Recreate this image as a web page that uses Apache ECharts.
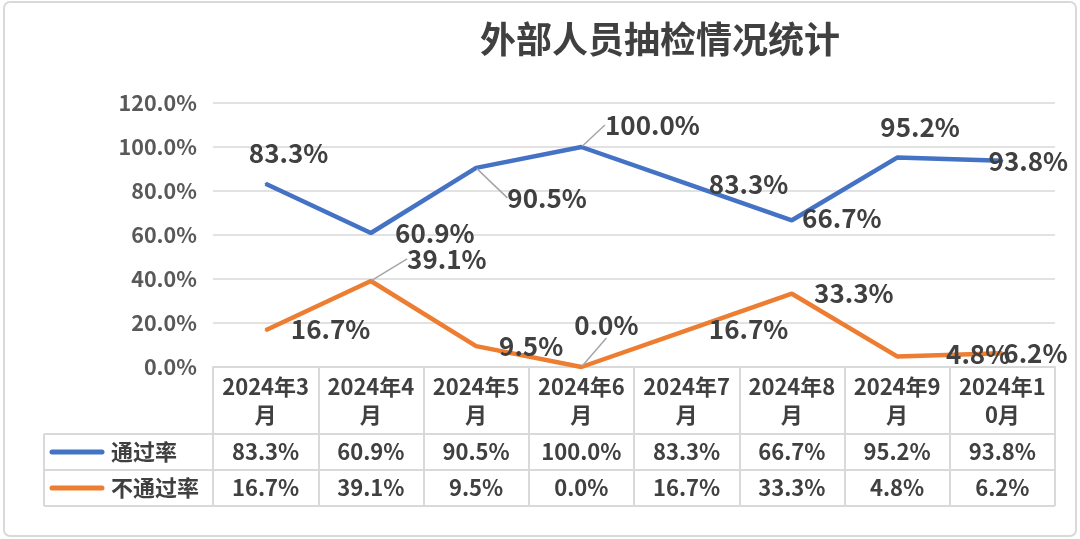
<!DOCTYPE html>
<html lang="zh">
<head>
    <meta charset="UTF-8">
    <script src="https://cdn.jsdelivr.net/npm/echarts@6/dist/echarts.min.js"></script>
    <title>外部人员抽检情况统计</title>
    <style>
        html, body { margin: 0; padding: 0; background: #fff; }
        #chart { width: 1080px; height: 539px; }
    </style>
</head>
<body>
<div id="chart"></div>
<script>
    // 数据
    var months = ['2024年3月', '2024年4月', '2024年5月', '2024年6月', '2024年7月', '2024年8月', '2024年9月', '2024年10月'];
    var passName = '通过率';
    var failName = '不通过率';
    var passRate = [83.3, 60.9, 90.5, 100.0, 83.3, 66.7, 95.2, 93.8];
    var failRate = [16.7, 39.1, 9.5, 0.0, 16.7, 33.3, 4.8, 6.2];
    var yTicks = [0, 20, 40, 60, 80, 100, 120];

    // 标签相对数据点的偏移（布局）
    var passLabelOffset = [[23, -31], [64, 0], [71, 30], [71, -22], [62, 0], [50, -2], [23, -30], [26, 0]];
    var failLabelOffset = [[65, -1], [76, -22], [55, 0], [25, -42], [62, -1], [62, -1], [81, -2], [33, 0]];
    var passLeader = [false, false, true, true, false, false, false, false];
    var failLeader = [false, true, false, true, false, false, false, false];

    var FONT = '"Noto Sans CJK SC", "Noto Sans", sans-serif';
    var BLUE = '#4472C4', ORANGE = '#ED7D31';
    var GRID_COLOR = '#d9d9d9';
    var TEXT = '#404040';

    function pct(v) { return v.toFixed(1) + '%'; }

    function buildData(values, leader) {
        return values.map(function (v, i) {
            return { value: v, labelLine: { show: leader[i] } };
        });
    }

    var myChart = echarts.init(document.getElementById('chart'));

    function lineSeries(name, values, color, offsets, leader) {
        return {
            name: name,
            type: 'line',
            data: buildData(values, leader),
            symbol: 'circle',
            symbolSize: 2,
            showSymbol: true,
            itemStyle: { color: color },
            lineStyle: { color: color, width: 4.5 },
            label: {
                show: true,
                position: 'inside',
                formatter: function (p) { return pct(p.value); },
                fontFamily: FONT,
                fontSize: 26,
                fontWeight: 'bold',
                color: TEXT
            },
            labelLine: {
                show: false,
                lineStyle: { color: '#a6a6a6', width: 1.5 }
            },
            labelLayout: function (params) {
                var o = offsets[params.dataIndex];
                return { dx: o[0], dy: o[1] };
            },
            emphasis: { disabled: true },
            animation: false
        };
    }

    var option = {
        animation: false,
        title: {
            text: '外部人员抽检情况统计',
            left: 655,
            top: 16,
            textAlign: 'center',
            textStyle: { fontFamily: FONT, fontSize: 36, fontWeight: 'bold', color: TEXT }
        },
        grid: { left: 213, right: 25, top: 103, bottom: 172 },
        xAxis: {
            type: 'category',
            data: months,
            boundaryGap: true,
            axisLine: { show: true, lineStyle: { color: GRID_COLOR, width: 2 } },
            axisTick: { show: true, length: 139, lineStyle: { color: GRID_COLOR, width: 2 } },
            axisLabel: {
                margin: 6,
                interval: 0,
                fontFamily: FONT,
                fontSize: 22,
                fontWeight: 'bold',
                lineHeight: 28,
                color: TEXT,
                formatter: function (v) { return v.slice(0, 6) + '\n' + v.slice(6); }
            }
        },
        yAxis: {
            type: 'value',
            min: yTicks[0],
            max: yTicks[yTicks.length - 1],
            interval: yTicks[1] - yTicks[0],
            axisLine: { show: false },
            axisTick: { show: false },
            axisLabel: {
                margin: 16,
                fontFamily: FONT,
                fontSize: 21.5,
                fontWeight: 'bold',
                color: '#595959',
                formatter: function (v) { return pct(v); }
            },
            splitLine: { lineStyle: { color: GRID_COLOR, width: 1.5 } }
        },
        series: [
            lineSeries(passName, passRate, BLUE, passLabelOffset, passLeader),
            lineSeries(failName, failRate, ORANGE, failLabelOffset, failLeader)
        ]
    };

    myChart.setOption(option);

    // 数据表（画在x轴下方）
    function drawTable() {
        var n = months.length;
        var c0 = myChart.convertToPixel({ xAxisIndex: 0 }, 0);
        var c1 = myChart.convertToPixel({ xAxisIndex: 0 }, 1);
        var bw = c1 - c0;
        var left = c0 - bw / 2;
        var right = left + bw * n;
        var axisY = myChart.convertToPixel({ yAxisIndex: 0 }, 0);
        var headerH = 67, rowH = 36;
        var legendLeft = 44;
        var r1 = axisY + headerH, r2 = r1 + rowH, r3 = r2 + rowH;
        var lineStyle = { stroke: GRID_COLOR, lineWidth: 2 };
        var els = [];

        [r1, r2, r3].forEach(function (y) {
            els.push({ type: 'line', shape: { x1: legendLeft, y1: y, x2: right, y2: y }, style: lineStyle, silent: true });
        });
        els.push({ type: 'line', shape: { x1: legendLeft, y1: r1, x2: legendLeft, y2: r3 }, style: lineStyle, silent: true });

        var rows = [
            { name: passName, values: passRate, color: BLUE, y: r1 + rowH / 2 },
            { name: failName, values: failRate, color: ORANGE, y: r2 + rowH / 2 }
        ];
        rows.forEach(function (row) {
            els.push({
                type: 'line',
                shape: { x1: 52, y1: row.y, x2: 102, y2: row.y },
                style: { stroke: row.color, lineWidth: 5, lineCap: 'round' },
                silent: true
            });
            els.push({
                type: 'text',
                x: 111, y: row.y,
                style: {
                    text: row.name, fill: TEXT, font: 'bold 22px ' + FONT,
                    textAlign: 'left', textVerticalAlign: 'middle'
                },
                silent: true
            });
            row.values.forEach(function (v, i) {
                els.push({
                    type: 'text',
                    x: myChart.convertToPixel({ xAxisIndex: 0 }, i),
                    y: row.y,
                    style: {
                        text: pct(v), fill: TEXT, font: 'bold 22px ' + FONT,
                        textAlign: 'center', textVerticalAlign: 'middle'
                    },
                    silent: true
                });
            });
        });

        // 图表外框
        els.push({
            type: 'rect',
            shape: { x: 4, y: 2, width: 1072, height: 534, r: 6 },
            style: { fill: 'none', stroke: GRID_COLOR, lineWidth: 2 },
            silent: true
        });

        myChart.setOption({ graphic: { elements: els } });
    }
    drawTable();
</script>
</body>
</html>
